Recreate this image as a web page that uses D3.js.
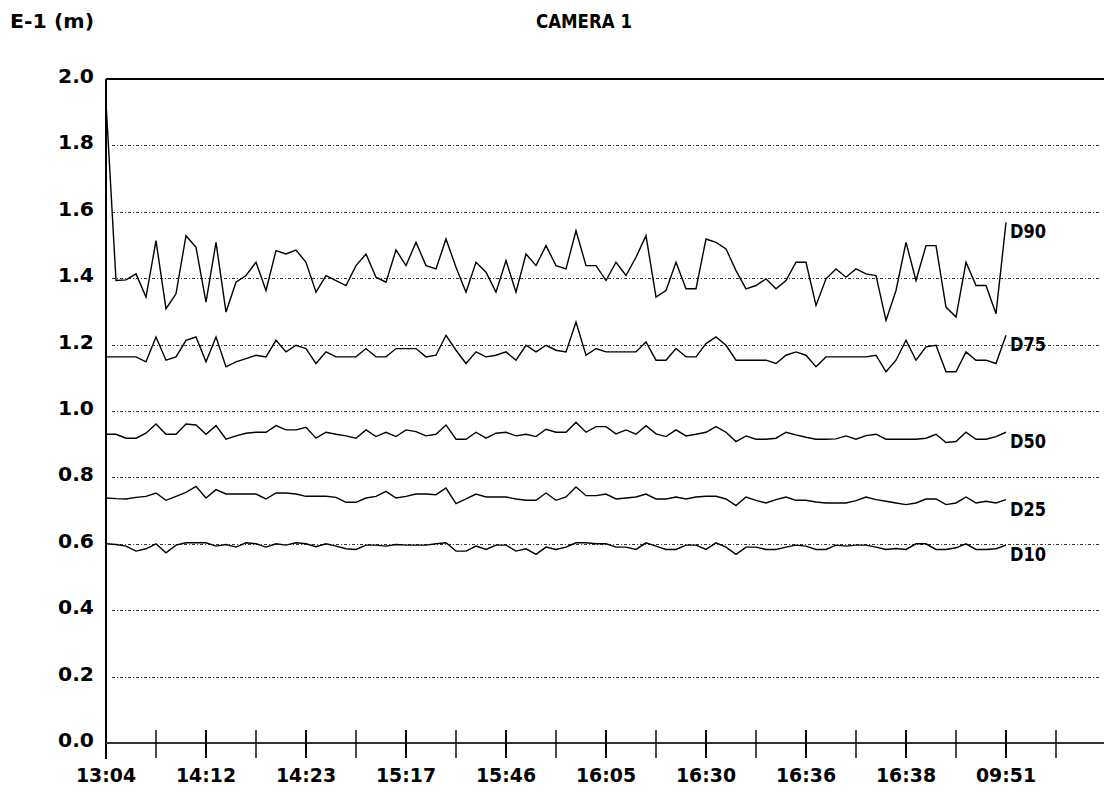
<!DOCTYPE html>
<html>
<head>
<meta charset="utf-8">
<script src="https://cdn.jsdelivr.net/npm/d3@7"></script>
<style>
  body { margin: 0; background: #fff; }
  text { font-family: "DejaVu Sans", sans-serif; font-weight: bold; fill: #000; }
  .grid { stroke: #333; stroke-width: 1; stroke-dasharray: 3,2,1,2; }
  .series { fill: none; stroke: #000; stroke-width: 1.4; }
</style>
</head>
<body>
<div id="chart"></div>
<script>
// time labels under every second x tick
const timeLabels = ['13:04', '14:12', '14:23', '15:17', '15:46', '16:05', '16:30', '16:36', '16:38', '09:51'];
const yTicks = [0, 0.2, 0.4, 0.6, 0.8, 1.0, 1.2, 1.4, 1.6, 1.8, 2.0];
const seriesNames = ['D90', 'D75', 'D50', 'D25', 'D10'];

// values, one per sample (91 samples)
const d90 = [1.93, 1.393, 1.395, 1.413, 1.343, 1.513, 1.308, 1.353, 1.528, 1.493,
  1.328, 1.508, 1.298, 1.388, 1.408, 1.448, 1.363, 1.483, 1.473, 1.485,
  1.448, 1.358, 1.408, 1.393, 1.378, 1.438, 1.473, 1.403, 1.388, 1.485,
  1.438, 1.508, 1.438, 1.428, 1.518, 1.433, 1.358, 1.448, 1.418, 1.358,
  1.453, 1.358, 1.473, 1.438, 1.498, 1.438, 1.428, 1.543, 1.438, 1.438,
  1.393, 1.448, 1.408, 1.463, 1.528, 1.343, 1.363, 1.448, 1.368, 1.368,
  1.518, 1.508, 1.488, 1.423, 1.368, 1.378, 1.398, 1.368, 1.393, 1.448,
  1.448, 1.318, 1.398, 1.428, 1.403, 1.428, 1.413, 1.408, 1.273, 1.363,
  1.508, 1.393, 1.498, 1.498, 1.313, 1.283, 1.448, 1.378, 1.378, 1.293,
  1.568];
const d75 = [1.163, 1.163, 1.163, 1.163, 1.148, 1.223, 1.153, 1.163, 1.213, 1.223,
  1.148, 1.223, 1.133, 1.148, 1.158, 1.168, 1.163, 1.213, 1.178, 1.198,
  1.188, 1.143, 1.178, 1.163, 1.163, 1.163, 1.188, 1.163, 1.163, 1.188,
  1.188, 1.188, 1.163, 1.168, 1.228, 1.183, 1.143, 1.178, 1.163, 1.168,
  1.178, 1.153, 1.198, 1.178, 1.198, 1.183, 1.178, 1.268, 1.168, 1.188,
  1.178, 1.178, 1.178, 1.178, 1.208, 1.153, 1.153, 1.188, 1.163, 1.163,
  1.203, 1.223, 1.198, 1.153, 1.153, 1.153, 1.153, 1.143, 1.168, 1.178,
  1.168, 1.133, 1.163, 1.163, 1.163, 1.163, 1.163, 1.168, 1.118, 1.153,
  1.213, 1.153, 1.193, 1.198, 1.118, 1.118, 1.178, 1.153, 1.153, 1.143,
  1.228];
const d50 = [0.930, 0.930, 0.918, 0.918, 0.933, 0.961, 0.930, 0.930, 0.961, 0.958,
  0.930, 0.956, 0.915, 0.925, 0.933, 0.936, 0.936, 0.956, 0.943, 0.943,
  0.951, 0.918, 0.936, 0.930, 0.925, 0.918, 0.943, 0.923, 0.936, 0.923,
  0.943, 0.938, 0.925, 0.930, 0.958, 0.915, 0.915, 0.936, 0.918, 0.933,
  0.936, 0.925, 0.930, 0.923, 0.945, 0.936, 0.936, 0.966, 0.936, 0.953,
  0.953, 0.931, 0.943, 0.930, 0.956, 0.931, 0.923, 0.943, 0.925, 0.930,
  0.936, 0.953, 0.936, 0.908, 0.925, 0.915, 0.915, 0.918, 0.936, 0.928,
  0.921, 0.915, 0.915, 0.916, 0.925, 0.915, 0.926, 0.930, 0.915, 0.915,
  0.915, 0.915, 0.918, 0.930, 0.905, 0.908, 0.936, 0.915, 0.915, 0.923,
  0.936];
const d25 = [0.738, 0.736, 0.735, 0.740, 0.743, 0.753, 0.731, 0.743, 0.755, 0.773,
  0.738, 0.763, 0.750, 0.750, 0.750, 0.750, 0.735, 0.753, 0.753, 0.750,
  0.743, 0.743, 0.743, 0.740, 0.725, 0.725, 0.738, 0.743, 0.758, 0.738,
  0.743, 0.750, 0.750, 0.748, 0.768, 0.721, 0.735, 0.750, 0.741, 0.741,
  0.741, 0.735, 0.731, 0.731, 0.753, 0.731, 0.741, 0.771, 0.745, 0.745,
  0.750, 0.735, 0.738, 0.741, 0.750, 0.735, 0.735, 0.741, 0.735, 0.741,
  0.743, 0.743, 0.735, 0.715, 0.741, 0.731, 0.723, 0.733, 0.741, 0.731,
  0.731, 0.726, 0.723, 0.723, 0.723, 0.730, 0.741, 0.733, 0.728, 0.723,
  0.718, 0.723, 0.735, 0.735, 0.718, 0.723, 0.741, 0.723, 0.728, 0.723,
  0.733];
const d10 = [0.600, 0.598, 0.593, 0.578, 0.585, 0.600, 0.573, 0.596, 0.603, 0.603,
  0.603, 0.593, 0.598, 0.590, 0.603, 0.600, 0.590, 0.600, 0.596, 0.603,
  0.600, 0.591, 0.600, 0.593, 0.585, 0.583, 0.596, 0.596, 0.593, 0.598,
  0.596, 0.596, 0.596, 0.600, 0.603, 0.578, 0.578, 0.593, 0.583, 0.596,
  0.596, 0.578, 0.585, 0.568, 0.590, 0.583, 0.590, 0.603, 0.603, 0.600,
  0.600, 0.590, 0.590, 0.583, 0.603, 0.593, 0.583, 0.583, 0.596, 0.596,
  0.583, 0.603, 0.590, 0.568, 0.590, 0.590, 0.583, 0.583, 0.590, 0.596,
  0.593, 0.583, 0.583, 0.596, 0.593, 0.596, 0.596, 0.590, 0.583, 0.586,
  0.583, 0.600, 0.600, 0.583, 0.583, 0.588, 0.600, 0.583, 0.583, 0.585,
  0.596];

function drawChart() {
    let width = 1104, height = 792,
        left = 106, top = 79, bottom = 743,
        fontSize = 20,
        charW = 12,  // old terminal font: roughly 12 px per character
        svg = d3.select('#chart').append('svg')
                .attr('width', width).attr('height', height);

    // squeeze every label to the fixed character pitch of the original
    function pitch(sel) {
        sel.attr('font-size', fontSize)
           .attr('lengthAdjust', 'spacingAndGlyphs')
           .attr('textLength', function () { return this.textContent.length * charW; });
    }

    let series = [d90, d75, d50, d25, d10];
    let nSamples = d90.length;

    // one sample every 10 px, label every 10 samples, tick every 5
    let xScale = d3.scaleLinear().domain([0, nSamples - 1]).range([left, left + 900]);
    let yScale = d3.scaleLinear().domain([0, 2]).range([bottom, top]);

    // header
    svg.append('text').attr('x', 10).attr('y', 28)
       .text('E-1 (m)').call(pitch);
    svg.append('text').attr('x', 584).attr('y', 28)
       .attr('text-anchor', 'middle')
       .text('CAMERA 1').call(pitch);

    // dotted gridlines
    svg.append('g').selectAll('line')
       .data(yTicks.filter(d => d > 0 && d < 2))
       .enter().append('line')
       .attr('class', 'grid')
       .attr('x1', left + 6).attr('x2', width - 4)
       .attr('y1', d => Math.round(yScale(d)) + 0.5)
       .attr('y2', d => Math.round(yScale(d)) + 0.5);

    // y axis labels
    let yAxis = d3.axisLeft(yScale).tickValues(yTicks).tickSize(0).tickPadding(12)
                  .tickFormat(d3.format('.1f'));
    let yAxisGroup = svg.append('g').attr('transform', `translate(${left}, -3)`).call(yAxis);
    yAxisGroup.select('.domain').remove();
    yAxisGroup.selectAll('text')
              .attr('font-family', null).attr('fill', '#000')
              .call(pitch);

    // frame: top line, left axis, bottom axis
    svg.append('line').attr('x1', left).attr('x2', width)
       .attr('y1', top).attr('y2', top)
       .attr('stroke', '#000').attr('stroke-width', 2);
    svg.append('line').attr('x1', left).attr('x2', left)
       .attr('y1', top).attr('y2', bottom + 16)
       .attr('stroke', '#000').attr('stroke-width', 2);
    svg.append('line').attr('x1', left).attr('x2', width)
       .attr('y1', bottom).attr('y2', bottom)
       .attr('stroke', '#333').attr('stroke-width', 2);

    // x ticks
    svg.append('g').selectAll('line')
       .data(d3.range(5, 100, 5))
       .enter().append('line')
       .attr('x1', d => xScale(d)).attr('x2', d => xScale(d))
       .attr('y1', bottom - 13).attr('y2', bottom + 15)
       .attr('stroke', '#000').attr('stroke-width', d => d % 10 === 0 ? 2 : 1.4);

    // x labels
    svg.append('g').selectAll('text')
       .data(timeLabels)
       .enter().append('text')
       .attr('x', (d, i) => xScale(i * 10))
       .attr('y', 782)
       .attr('text-anchor', 'middle')
       .text(d => d)
       .call(pitch);

    // series lines
    let line = d3.line()
                 .x((d, i) => xScale(i))
                 .y(d => yScale(d));
    svg.append('g').selectAll('path')
       .data(series)
       .enter().append('path')
       .attr('class', 'series')
       .attr('d', line);

    // series labels at the right end
    svg.append('g').selectAll('text')
       .data(series)
       .enter().append('text')
       .attr('x', d => xScale(nSamples - 1) + 4)
       .attr('y', d => yScale(d[nSamples - 1]) + 16)
       .text((d, i) => seriesNames[i])
       .call(pitch);
}

drawChart();
</script>
</body>
</html>
